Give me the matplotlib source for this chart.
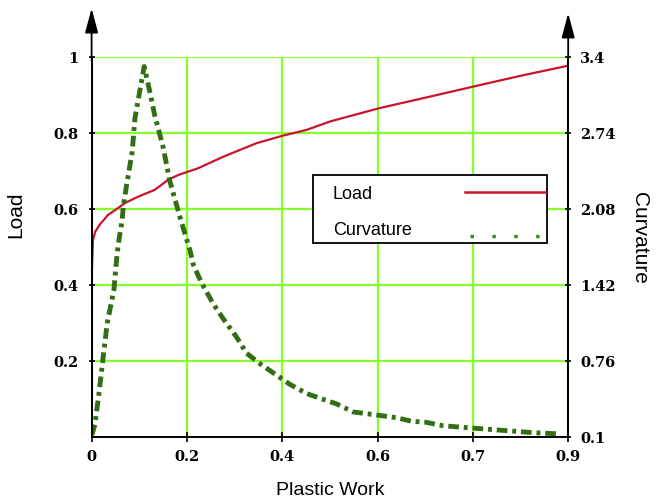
import numpy as np
import matplotlib
matplotlib.use("Agg")
import matplotlib.pyplot as plt
import matplotlib.transforms as mtransforms
from matplotlib.patches import Rectangle

# data (x in axis units 0..0.9, evenly spaced ticks)
load_x = [0.0, 0.0006, 0.0025, 0.0068, 0.0151, 0.0308, 0.0497, 0.0623, 0.0874,
          0.119, 0.144, 0.163, 0.182, 0.201, 0.248, 0.3115, 0.359, 0.406, 0.45,
          0.543, 0.631, 0.721, 0.809, 0.9]
load_y = [0.064, 0.44, 0.519, 0.541, 0.559, 0.585, 0.603, 0.616, 0.633,
          0.651, 0.677, 0.69, 0.699, 0.708, 0.738, 0.774, 0.793, 0.809, 0.831,
          0.866, 0.894, 0.923, 0.951, 0.978]

curv_x = [0.0006, 0.0062, 0.0144, 0.0219, 0.0295, 0.0421, 0.0483, 0.0515, 0.0578,
          0.0597, 0.0661, 0.0767, 0.0818, 0.0993, 0.110, 0.119, 0.135, 0.148,
          0.167, 0.186, 0.192, 0.2077, 0.2296, 0.2485, 0.2738, 0.2926, 0.3178,
          0.346, 0.3744, 0.406, 0.437, 0.4626, 0.494, 0.544, 0.576, 0.604, 0.632,
          0.664, 0.72, 0.777, 0.834, 0.881]
curv_y = [0.12, 0.21, 0.50, 0.80, 1.09, 1.38, 1.70, 1.81, 1.99,
          2.10, 2.29, 2.58, 2.87, 3.32, 3.10, 2.90, 2.62, 2.32,
          2.01, 1.72, 1.60, 1.44, 1.26, 1.13, 0.97, 0.83, 0.74,
          0.65, 0.56, 0.48, 0.43, 0.39, 0.32, 0.29, 0.27, 0.24, 0.23,
          0.20, 0.18, 0.16, 0.14, 0.13]

x_ticks = np.linspace(0, 0.9, 6)
x_labels = ['0', '0.2', '0.4', '0.6', '0.7', '0.9']
load_ticks = [0.2, 0.4, 0.6, 0.8, 1.0]
load_labels = ['0.2', '0.4', '0.6', '0.8', '1']
curv_ticks = [0.1, 0.76, 1.42, 2.08, 2.74, 3.4]
curv_labels = ['0.1', '0.76', '1.42', '2.08', '2.74', '3.4']

red = '#c8142c'
dkgreen = '#336e14'
grid_c = '#84ff2a'
tickfont = dict(family='DejaVu Serif', weight='bold', size=10.5)

fig = plt.figure(figsize=(6.59, 5.0), dpi=100)
ax = fig.add_axes([0.139, 0.1254, 0.7232, 0.76])
ax2 = ax.twinx()

ax.plot(load_x, load_y, color=red, lw=1.6, zorder=2)
ax2.plot(curv_x, curv_y, color=dkgreen, lw=3.5, linestyle=(0, (2.2, 1.0, 0.8, 1.0)),
         dash_capstyle='butt', zorder=2)

ax.set_xlim(0, 0.9)
ax.set_ylim(0, 1)
ax2.set_ylim(0.1, 3.4)

ax.set_xticks(x_ticks)
ax.set_xticklabels(x_labels, fontdict=tickfont)
ax.set_yticks(load_ticks)
ax.set_yticklabels(load_labels, fontdict=tickfont)
ax2.set_yticks(curv_ticks)
ax2.set_yticklabels(curv_labels, fontdict=tickfont)

shift = mtransforms.ScaledTranslation(0.05, 0, fig.dpi_scale_trans)
for lab in ax.get_xticklabels():
    lab.set_transform(lab.get_transform() + shift)

ax.tick_params(axis='x', direction='inout', length=7, width=1.2, pad=6)
ax.tick_params(axis='y', direction='inout', length=5, width=1.2, pad=7)
ax2.tick_params(axis='y', direction='inout', length=5, width=1.2, pad=6)

ax.grid(True, color=grid_c, lw=1.6)
ax.set_axisbelow(True)

for a in (ax, ax2):
    a.spines['top'].set_visible(False)
    for s in ('left', 'right', 'bottom'):
        a.spines[s].set_linewidth(1.3)
ax.spines['bottom'].set_color('#333333')

ax.set_xlabel('Plastic Work', fontsize=14, family='Liberation Sans', va='center')
ax.xaxis.set_label_coords(0.5, -0.14)
ax.set_ylabel('Load', fontsize=15, family='Liberation Sans')
ax.yaxis.set_label_coords(-0.14, 0.585)
ax2.set_ylabel('Curvature', fontsize=15, family='Liberation Sans', rotation=270, va='center')
ax2.yaxis.set_label_coords(1.15, 0.524)

# arrow heads on the two y axes
arrow = dict(arrowstyle='-|>,head_length=0.75,head_width=0.2', color='black', lw=1.3,
             mutation_scale=20, shrinkA=0, shrinkB=0)
ax.annotate('', xy=(0, 1.129), xytext=(0, 0.99), xycoords='axes fraction',
            arrowprops=arrow, annotation_clip=False)
ax.annotate('', xy=(1, 1.116), xytext=(1, 0.99), xycoords='axes fraction',
            arrowprops=arrow, annotation_clip=False)

# legend box drawn by hand (text left, sample line right)
tr = ax2.transAxes
ax2.add_patch(Rectangle((0.465, 0.511), 0.49, 0.179, transform=tr, facecolor='white',
                        edgecolor='black', lw=1.3, zorder=5))
ax2.text(0.506, 0.640, 'Load', transform=tr, fontsize=13, family='Liberation Sans',
         va='center', ha='left', zorder=6)
ax2.text(0.506, 0.543, 'Curvature', transform=tr, fontsize=13, family='Liberation Sans',
         va='center', ha='left', zorder=6)
ax2.plot([0.783, 0.951], [0.646, 0.646], transform=tr, color=red, lw=1.8, zorder=6)
ax2.plot([0.794, 0.951], [0.530, 0.530], transform=tr, color='#3d8c1e', lw=2.5,
         linestyle=(0, (1, 5.3)), zorder=6)

fig.savefig('out.png', dpi=100)
